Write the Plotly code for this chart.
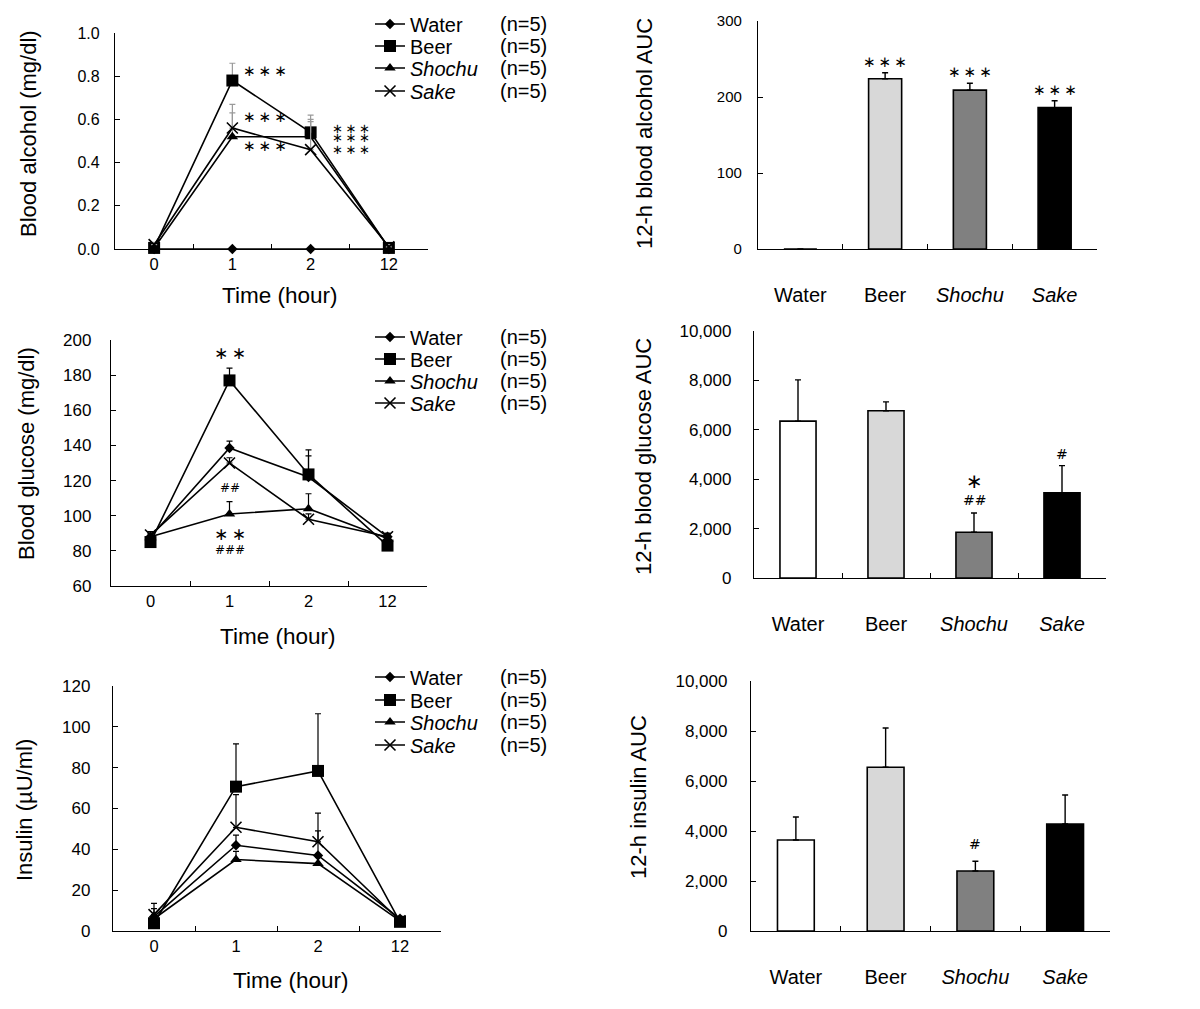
import plotly.graph_objects as go

# ---------------- data ----------------
times = ["0", "1", "2", "12"]
groups = ["Water", "Beer", "Shochu", "Sake"]
group_labels = ["Water", "Beer", "<i>Shochu</i>", "<i>Sake</i>"]
legend_names = ["Water", "Beer", "<i>Shochu</i>", "<i>Sake</i>"]

# Blood alcohol (mg/dl)
alc_water = [0, 0, 0, 0]
alc_beer = [0.005, 0.78, 0.54, 0.005]
alc_shochu = [0.005, 0.52, 0.52, 0.005]
alc_sake = [0.02, 0.56, 0.46, 0.01]
alc_water_err = [0, 0, 0, 0]
alc_beer_err = [0, 0.08, 0.08, 0]
alc_shochu_err = [0, 0.11, 0.07, 0]
alc_sake_err = [0.01, 0.11, 0.14, 0.01]

# Blood glucose (mg/dl)
glu_water = [88, 138.5, 122, 88]
glu_beer = [85, 177, 123.5, 83]
glu_shochu = [88, 101, 104, 87]
glu_sake = [89, 130, 98, 88]
glu_water_err = [3, 4, 12, 2]
glu_beer_err = [3, 7, 14, 2]
glu_shochu_err = [2, 7, 8.5, 2]
glu_sake_err = [2, 3, 3, 2]

# Insulin (uU/ml)
ins_water = [7, 42, 37, 6]
ins_beer = [3.8, 70.7, 78.4, 4.5]
ins_shochu = [6, 35, 33, 5]
ins_sake = [8, 50.8, 43.7, 5]
ins_water_err = [6.5, 5, 12, 1]
ins_beer_err = [2, 21, 28, 1]
ins_shochu_err = [2, 4, 3, 1]
ins_sake_err = [3, 16, 14, 1]

# 12-h AUC
auc_alcohol = [0, 224, 209, 186]
auc_alcohol_err = [0, 8, 9, 9]
auc_glucose = [6350, 6770, 1850, 3450]
auc_glucose_err = [1670, 360, 780, 1100]
auc_insulin = [3640, 6550, 2400, 4280]
auc_insulin_err = [920, 1570, 390, 1160]

bar_colors = ["#ffffff", "#d8d8d8", "#808080", "#000000"]

# ---------------- layout helpers ----------------
W, H = 1200, 1009
OFF = 8  # page body margin
FONT = "Arial, Liberation Sans, sans-serif"


def fx(px):
    return (px - OFF) / W


def fy(py):
    return 1 - (py - OFF) / H


fig = go.Figure()

symbols = ["diamond", "square", "triangle-up", "x-thin"]
sizes = [8, 12, 10, 11]

line_sets = [
    ([alc_water, alc_beer, alc_shochu, alc_sake],
     [alc_water_err, alc_beer_err, alc_shochu_err, alc_sake_err], "#9a9a9a"),
    ([glu_water, glu_beer, glu_shochu, glu_sake],
     [glu_water_err, glu_beer_err, glu_shochu_err, glu_sake_err], "#000000"),
    ([ins_water, ins_beer, ins_shochu, ins_sake],
     [ins_water_err, ins_beer_err, ins_shochu_err, ins_sake_err], "#000000"),
]


def lname(i):
    return "legend" if i == 1 else "legend%d" % i


for p, (series, errs, ecol) in enumerate(line_sets):
    ax = "" if p == 0 else str(p + 1)
    for g in range(4):
        fig.add_trace(go.Scatter(
            x=times, y=series[g],
            mode="lines+markers",
            name=legend_names[g],
            legend=lname(p * 4 + g + 1),
            xaxis="x" + ax, yaxis="y" + ax,
            line=dict(color="black", width=1.6),
            marker=dict(symbol=symbols[g], size=sizes[g], color="black",
                        line=dict(color="black", width=1.6 if g == 3 else 0)),
            error_y=dict(type="data", symmetric=False, array=errs[g],
                         arrayminus=[0] * 4, color=ecol, thickness=1.2, width=3),
            cliponaxis=False,
        ))

bar_sets = [
    (auc_alcohol, auc_alcohol_err, 0.39),
    (auc_glucose, auc_glucose_err, 0.41),
    (auc_insulin, auc_insulin_err, 0.41),
]
for b, (vals, errs, bw) in enumerate(bar_sets):
    ax = str(b + 4)
    fig.add_trace(go.Bar(
        x=groups, y=vals, width=bw,
        xaxis="x" + ax, yaxis="y" + ax,
        marker=dict(color=bar_colors, line=dict(color="black", width=1.6)),
        error_y=dict(type="data", symmetric=False, array=errs,
                     arrayminus=[0] * 4, color="black", thickness=1.4, width=3),
        showlegend=False,
    ))

# panel boxes in pixels: x0, x1, ytop, ybot
boxes = [
    (115, 428, 33, 249),
    (111, 427, 340, 586),
    (113, 441, 686, 931),
    (758, 1097, 21, 249),
    (754, 1106, 331, 578),
    (751, 1110, 681, 931),
]
yranges = [[0, 1.0], [60, 200], [0, 120], [0, 300], [0, 10000], [0, 10000]]
ydticks = [0.2, 20, 20, 100, 2000, 2000]
yfmt = [".1f", "d", "d", "d", ",d", ",d"]
ystand = [11, 15, 18, 12, 18, 19]
ytfs = [16, 17, 17, 15, 17, 17]

axis_common = dict(showline=True, linecolor="black", linewidth=1.3,
                   showgrid=False, zeroline=False, ticks="inside",
                   tickcolor="black", ticklen=5, tickwidth=1.2)

for i, (x0, x1, yt, yb) in enumerate(boxes):
    sfx = "" if i == 0 else str(i + 1)
    xa = dict(axis_common, domain=[fx(x0), fx(x1)], anchor="y" + sfx,
              type="category", range=[-0.5, 3.5], tickson="boundaries",
              tickfont=dict(family=FONT, size=16.5 if i < 3 else 20, color="black"))
    if i >= 3:
        xa.update(tickmode="array", tickvals=groups, ticktext=group_labels,
                  ticklabelstandoff=28)
    else:
        xa.update(ticklabelstandoff=0)
    ya = dict(axis_common, domain=[fy(yb), fy(yt)], anchor="x" + sfx,
              range=yranges[i], dtick=ydticks[i], tick0=0, tickformat=yfmt[i],
              ticklabelstandoff=ystand[i],
              tickfont=dict(family=FONT, size=ytfs[i], color="black"))
    fig.update_layout(**{"xaxis" + sfx: xa, "yaxis" + sfx: ya})

annotations = []


def txt(x, y, s, size, rot=0, xanchor="center"):
    annotations.append(dict(x=fx(x), y=fy(y), xref="paper", yref="paper", text=s,
                            showarrow=False, textangle=rot, xanchor=xanchor,
                            yanchor="middle",
                            font=dict(family=FONT, size=size, color="black")))


# axis titles
txt(29, 134, "Blood alcohol (mg/dl)", 22, rot=-90)
txt(27, 454, "Blood glucose (mg/dl)", 22, rot=-90)
txt(24, 810, "Insulin (µU/ml)", 22, rot=-90)
txt(279, 295, "Time (hour)", 22.5)
txt(277, 636, "Time (hour)", 22.5)
txt(290, 980, "Time (hour)", 22.5)
txt(645, 134, "12-h blood alcohol AUC", 22, rot=-90)
txt(643, 457, "12-h blood glucose AUC", 22, rot=-90)
txt(638, 797, "12-h insulin AUC", 22, rot=-90)

# legend rows (pixel centres) and (n=5) column
legend_rows = [[24, 46, 68, 91], [337, 359, 381, 403], [677, 700, 722, 745]]
for rows in legend_rows:
    for r in rows:
        txt(498, r, "(n=5)", 20, xanchor="left")


def star(xref, yref, x, y, s, size, xshift=0, yshift=0, xanchor="center"):
    annotations.append(dict(x=x, y=y, xref=xref, yref=yref, text=s, showarrow=False,
                            xanchor=xanchor, yanchor="middle", xshift=xshift,
                            yshift=yshift,
                            font=dict(family="DejaVu Sans", size=size, color="black")))


S3 = "∗\u2009∗\u2009∗"
S2 = "∗\u2009∗"
# blood alcohol
star("x", "y", "1", alc_beer[1], S3, 15, xshift=9, yshift=10, xanchor="left")
star("x", "y", "1", alc_sake[1], S3, 15, xshift=9, yshift=11, xanchor="left")
star("x", "y", "1", alc_shochu[1], S3, 15, xshift=9, yshift=-9, xanchor="left")
star("x", "y", "2", alc_beer[2], S3, 13, xshift=19, yshift=4, xanchor="left")
star("x", "y", "2", alc_shochu[2], S3, 13, xshift=19, yshift=-1, xanchor="left")
star("x", "y", "2", alc_sake[2], S3, 13, xshift=19, yshift=0, xanchor="left")
# blood glucose
star("x2", "y2", "1", glu_beer[1] + glu_beer_err[1], S2, 17, yshift=15)
star("x2", "y2", "1", glu_shochu[1], "##", 12, yshift=26)
star("x2", "y2", "1", glu_shochu[1], S2, 17, yshift=-20)
star("x2", "y2", "1", glu_shochu[1], "###", 12, yshift=-36)
# AUC bars
for k in range(1, 4):
    star("x4", "y4", groups[k], auc_alcohol[k] + auc_alcohol_err[k], S3, 15, yshift=11)
star("x5", "y5", "Shochu", auc_glucose[2] + auc_glucose_err[2], "∗", 20, yshift=32)
star("x5", "y5", "Shochu", auc_glucose[2] + auc_glucose_err[2], "##", 14, yshift=13)
star("x5", "y5", "Sake", auc_glucose[3] + auc_glucose_err[3], "#", 14, yshift=12)
star("x6", "y6", "Shochu", auc_insulin[2] + auc_insulin_err[2], "#", 14, yshift=17)

layout_kw = dict(
    width=W, height=H,
    margin=dict(l=0, r=0, t=0, b=0, pad=0, autoexpand=False),
    paper_bgcolor="white", plot_bgcolor="white",
    font=dict(family=FONT, color="black"),
    annotations=annotations,
)
legend_common = dict(xanchor="left", yanchor="middle", bgcolor="rgba(0,0,0,0)",
                     font=dict(family=FONT, size=20, color="black"),
                     itemwidth=30, tracegroupgap=0, borderwidth=0)
for p, rows in enumerate(legend_rows):
    for g, r in enumerate(rows):
        layout_kw[lname(p * 4 + g + 1)] = dict(legend_common, x=fx(370), y=fy(r))
fig.update_layout(**layout_kw)

fig.write_html("out.html")
